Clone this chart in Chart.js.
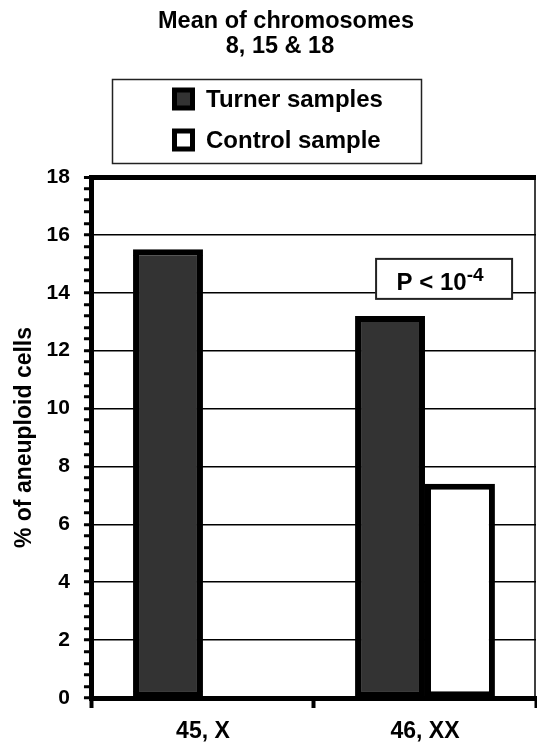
<!DOCTYPE html>
<html>
<head>
<meta charset="utf-8">
<script src="https://cdn.jsdelivr.net/npm/chart.js@4/dist/chart.umd.min.js"></script>
<style>
html, body { margin: 0; padding: 0; background: #ffffff; }
canvas { display: block; }
</style>
</head>
<body>
<canvas id="chart" width="537" height="743"></canvas>
<script>
// ---- data ----
const categories = ['45, X', '46, XX'];
const seriesLabels = ['Turner samples', 'Control sample'];
const turnerValues = [15.5, 13.2];
const controlValues = [null, 7.4];
const titleLines = ['Mean of chromosomes', '8, 15 & 18'];
const yAxisTitle = '% of aneuploid cells';
const yTickRange = [0, 18];
const yMajorStep = 2;
const yMinorStep = 0.4;
const pText = 'P < 10';
const pExponent = '-4';
const pAnchorCategory = 1.086;
const pAnchorValue = 14.48;

// ---- styling ----
const FONT = "'Liberation Sans', Arial, Helvetica, sans-serif";
const isMajor = v => Math.abs(v / yMajorStep - Math.round(v / yMajorStep)) < 1e-6;

const decorations = {
  id: 'decorations',
  afterDraw(chart) {
    const ctx = chart.ctx;
    const area = chart.chartArea;
    const xs = chart.scales.x, ys = chart.scales.y;
    ctx.save();

    // title (two centred lines)
    ctx.fillStyle = '#000';
    ctx.textAlign = 'center';
    ctx.textBaseline = 'middle';
    ctx.font = 'bold 23.5px ' + FONT;
    ctx.fillText(titleLines[0], 286, 22);
    ctx.fillText(titleLines[1], 280, 47);

    // thin right frame line
    ctx.strokeStyle = '#000';
    ctx.lineWidth = 1.5;
    ctx.beginPath();
    ctx.moveTo(area.right - 1, area.top);
    ctx.lineTo(area.right - 1, area.bottom);
    ctx.stroke();

    // legend box
    const bw = 309, bh = 84;
    const bx = 112;
    const by = 79;
    ctx.fillStyle = '#fff';
    ctx.fillRect(bx, by, bw, bh);
    ctx.strokeStyle = '#222';
    ctx.lineWidth = 1.5;
    ctx.strokeRect(bx + 0.5, by + 0.5, bw, bh);
    ctx.font = 'bold 24px ' + FONT;
    ctx.textBaseline = 'middle';
    ctx.textAlign = 'left';
    chart.data.datasets.forEach((ds, i) => {
      const cy = by + 20 + i * 41;
      const mx = bx + 60, ms = 23;
      ctx.fillStyle = '#000';
      ctx.fillRect(mx, cy - ms / 2, ms, ms);
      ctx.fillStyle = ds.backgroundColor;
      ctx.fillRect(mx + 5, cy - ms / 2 + 5, ms - 10, ms - 10);
      ctx.fillStyle = '#000';
      ctx.fillText(ds.label, mx + ms + 11, cy + 1);
    });

    // P annotation
    const cx = xs.getPixelForValue(pAnchorCategory);
    const cyP = ys.getPixelForValue(pAnchorValue);
    const pw = 136, ph = 40;
    ctx.fillStyle = '#fff';
    ctx.fillRect(cx - pw / 2, cyP - ph / 2, pw, ph);
    ctx.strokeStyle = '#222';
    ctx.lineWidth = 2;
    ctx.strokeRect(cx - pw / 2, cyP - ph / 2, pw, ph);
    ctx.font = 'bold 24px ' + FONT;
    const w1 = ctx.measureText(pText).width;
    ctx.font = 'bold 19px ' + FONT;
    const w2 = ctx.measureText(pExponent).width;
    const start = cx - (w1 + w2) / 2 - 4;
    ctx.fillStyle = '#000';
    ctx.textBaseline = 'alphabetic';
    ctx.font = 'bold 24px ' + FONT;
    ctx.fillText(pText, start, cyP + 11);
    ctx.font = 'bold 19px ' + FONT;
    ctx.fillText(pExponent, start + w1, cyP + 2);
    ctx.restore();
  }
};

new Chart(document.getElementById('chart'), {
  type: 'bar',
  data: {
    labels: categories,
    datasets: [
      { label: seriesLabels[0], data: turnerValues, backgroundColor: '#333333', borderColor: '#000000', borderWidth: 6, borderSkipped: false },
      { label: seriesLabels[1], data: controlValues, backgroundColor: '#ffffff', borderColor: '#000000', borderWidth: 6, borderSkipped: false }
    ]
  },
  options: {
    responsive: false,
    animation: false,
    devicePixelRatio: 1,
    layout: { padding: { left: 3, right: 1, top: 177, bottom: -13 } },
    datasets: { bar: { categoryPercentage: 0.63, barPercentage: 1.0 } },
    plugins: {
      legend: { display: false },
      tooltip: { enabled: false },
      title: { display: false }
    },
    scales: {
      x: {
        offset: true,
        border: { display: true, color: '#000', width: 5 },
        grid: { offset: true, drawOnChartArea: false, drawTicks: true, tickLength: 10, tickWidth: 4, tickColor: '#000', color: '#000' },
        ticks: { color: '#000', padding: 12.5, font: { family: FONT, size: 23, weight: 'bold', lineHeight: 1.0 } }
      },
      y: {
        min: yTickRange[0],
        max: yTickRange[1],
        border: { display: true, color: '#000', width: 5 },
        grid: {
          color: c => (c.tick && isMajor(c.tick.value)) ? '#000' : 'rgba(0,0,0,0)',
          lineWidth: c => (c.tick && c.tick.value === yTickRange[1]) ? 5 : 1.5,
          tickColor: '#000',
          tickLength: 8,
          tickWidth: 3
        },
        ticks: {
          stepSize: yMinorStep,
          autoSkip: false,
          color: '#000',
          padding: 14,
          font: { family: FONT, size: 21, weight: 'bold' },
          callback: v => isMajor(v) ? String(Math.round(v)) : ''
        },
        title: {
          display: true,
          text: yAxisTitle,
          color: '#000',
          font: { family: FONT, size: 23, weight: 'bold' },
          padding: { top: 8, bottom: -6 }
        }
      }
    }
  },
  plugins: [decorations]
});
</script>
</body>
</html>
